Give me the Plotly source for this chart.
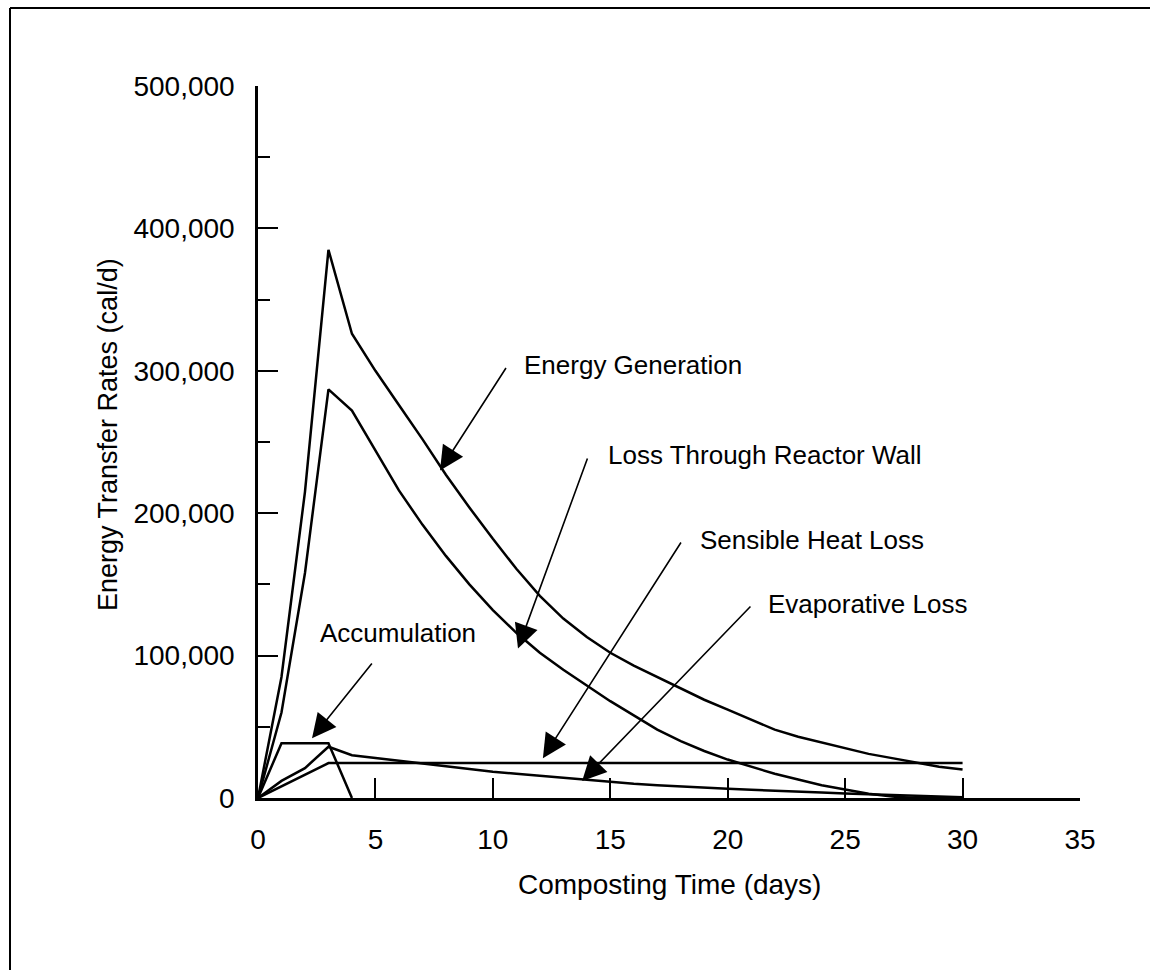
import plotly.graph_objects as go

# ---- data ----
days = list(range(0, 31))
energy_generation = [0, 85000, 215000, 385000, 326000, 300000, 276000, 252000, 227000, 204000,
                     182000, 161000, 142000, 126000, 113000, 102000, 93000, 85000, 77000, 69000,
                     62000, 55000, 48000, 43000, 39000, 35000, 31000, 28000, 25000, 22000, 20000]
loss_reactor_wall = [0, 60000, 158000, 287000, 272000, 244000, 216000, 192000, 170000, 150000,
                     132000, 116000, 102000, 90000, 79000, 68000, 58000, 48000, 40000, 33000,
                     27000, 22000, 17000, 13000, 9000, 6000, 3000, 1000, 0, 0, 0]
sensible_heat_loss = [0, 8000, 16000, 24500] + [24500] * 27
evaporative_loss = [0, 12000, 21000, 36000, 30000, 28000, 26000, 24000, 22000, 20000,
                    18500, 17000, 15500, 14000, 12500, 11000, 10000, 9000, 8000, 7300,
                    6500, 5800, 5000, 4400, 3800, 3200, 2600, 2000, 1500, 1000, 500]
accum_days = [0, 1, 3, 4]
accumulation = [0, 38500, 38500, 0]

x_tick_vals = [0, 5, 10, 15, 20, 25, 30, 35]
x_tick_text = ["0", "5", "10", "15", "20", "25", "30", "35"]
y_tick_vals = [0, 100000, 200000, 300000, 400000, 500000]
y_tick_text = ["0", "100,000", "200,000", "300,000", "400,000", "500,000"]

FONT = "Liberation Sans, Arial, Helvetica, sans-serif"
line_style = dict(color="black", width=2.5)

fig = go.Figure()
for xs, ys, name in [
    (days, energy_generation, "Energy Generation"),
    (days, loss_reactor_wall, "Loss Through Reactor Wall"),
    (days, sensible_heat_loss, "Sensible Heat Loss"),
    (days, evaporative_loss, "Evaporative Loss"),
    (accum_days, accumulation, "Accumulation"),
]:
    fig.add_trace(go.Scatter(x=xs, y=ys, mode="lines", name=name, line=line_style,
                             showlegend=False, hoverinfo="skip"))

# invisible trace on tick-mark axes
fig.add_trace(go.Scatter(x=[0], y=[0], xaxis="x2", yaxis="y2", mode="markers",
                         marker=dict(opacity=0), showlegend=False, hoverinfo="skip"))

axis_common = dict(showgrid=False, zeroline=False)
fig.update_layout(
    width=1150, height=970,
    margin=dict(l=258, r=70, t=86, b=172),
    paper_bgcolor="white", plot_bgcolor="white",
    font=dict(family=FONT, color="black"),
    xaxis=dict(range=[0, 35], showline=True, linecolor="black", linewidth=2.5,
               tickvals=x_tick_vals, ticktext=x_tick_text, ticks="",
               tickfont=dict(size=28, family=FONT, color="black"),
               ticklabelstandoff=15, **axis_common),
    yaxis=dict(range=[0, 500000], showline=True, linecolor="black", linewidth=2.5,
               tickvals=y_tick_vals, ticktext=y_tick_text, ticks="",
               tickfont=dict(size=28, family=FONT, color="black"),
               ticklabelstandoff=15, **axis_common),
    xaxis2=dict(range=[0, 35], overlaying="x", anchor="y", side="bottom",
                tickvals=[5, 10, 15, 20, 25, 30], ticks="inside", ticklen=20,
                tickwidth=2, tickcolor="black", showticklabels=False,
                showline=False, **axis_common),
    yaxis2=dict(range=[0, 500000], overlaying="y", anchor="x", side="left",
                tickvals=[100000, 200000, 300000, 400000], ticks="inside", ticklen=20,
                tickwidth=2, tickcolor="black", showticklabels=False, showline=False,
                minor=dict(tickvals=[50000, 150000, 250000, 350000, 450000],
                           ticks="inside", ticklen=12, tickwidth=2, tickcolor="black"),
                **axis_common),
)

# frame lines (left and top edges of the scanned figure border)
fig.add_shape(type="line", xref="paper", yref="paper", x0=-0.3017, x1=-0.3017,
              y0=1.1096, y1=-0.26, line=dict(color="black", width=2))
fig.add_shape(type="line", xref="paper", yref="paper", x0=-0.3017, x1=1.1,
              y0=1.1096, y1=1.1096, line=dict(color="black", width=2))

# axis titles
fig.add_annotation(text="Composting Time (days)", xref="paper", yref="paper",
                   x=0.5, y=(798 - 884) / 712, showarrow=False,
                   xanchor="center", yanchor="middle", font=dict(size=28, family=FONT))
fig.add_annotation(text="Energy Transfer Rates (cal/d)", xref="paper", yref="paper",
                   x=(108 - 258) / 822, y=(798 - 435) / 712, showarrow=False, textangle=-90,
                   xanchor="center", yanchor="middle", font=dict(size=27, family=FONT))

# labels
labels = [
    ("Energy Generation", 11.24, 304000),
    ("Loss Through Reactor Wall", 14.82, 241000),
    ("Sensible Heat Loss", 18.73, 181000),
    ("Evaporative Loss", 21.63, 136000),
    ("Accumulation", 2.55, 116000),
]
for txt, lx, ly in labels:
    fig.add_annotation(text=txt, x=lx, y=ly, xref="x", yref="y", showarrow=False,
                       xanchor="left", yanchor="middle", font=dict(size=26, family=FONT))

# arrows: (tip_x, tip_y, tail_x, tail_y)
arrows = [
    (7.75, 230000, 10.60, 303000),
    (11.07, 105000, 14.05, 239500),
    (12.13, 28000, 18.05, 180500),
    (13.80, 12000, 21.03, 135500),
    (2.30, 42000, 4.90, 95500),
]
for tx, ty, sx, sy in arrows:
    fig.add_annotation(text="", x=tx, y=ty, ax=sx, ay=sy, xref="x", yref="y",
                       axref="x", ayref="y", showarrow=True, arrowhead=2,
                       arrowsize=3.0, arrowwidth=1.6, arrowcolor="black", standoff=0)

fig.write_html("out.html")
